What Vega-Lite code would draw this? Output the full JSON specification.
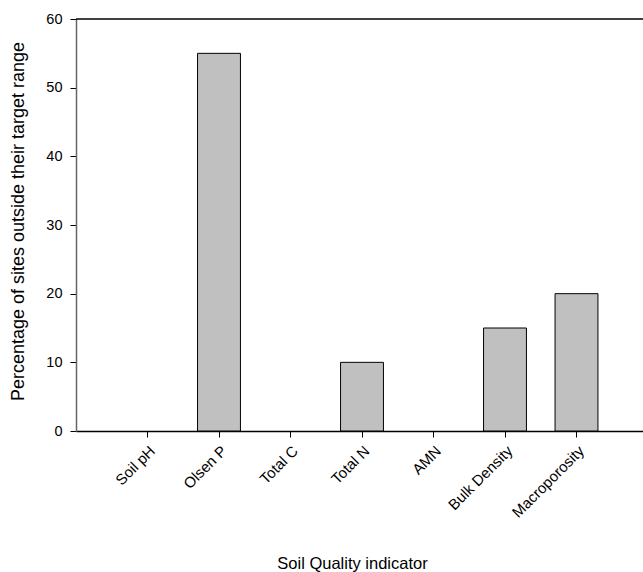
{
  "$schema": "https://vega.github.io/schema/vega-lite/v6.json",
  "autosize": "none",
  "width": 572,
  "height": 412,
  "padding": {"left": 76, "top": 19, "right": 0, "bottom": 141},
  "background": "white",
  "config": {
    "view": {"stroke": null},
    "font": "Liberation Sans"
  },
  "data": {
    "values": [
      {"indicator": "Soil pH", "pct": 0},
      {"indicator": "Olsen P", "pct": 55},
      {"indicator": "Total C", "pct": 0},
      {"indicator": "Total N", "pct": 10},
      {"indicator": "AMN", "pct": 0},
      {"indicator": "Bulk Density", "pct": 15},
      {"indicator": "Macroporosity", "pct": 20}
    ]
  },
  "layer": [
    {
      "transform": [{"filter": "datum.pct > 0"}],
      "mark": {"type": "bar", "fill": "#c0c0c0", "stroke": "black", "strokeWidth": 1},
      "encoding": {
        "x": {
          "field": "indicator",
          "type": "nominal",
          "sort": null,
          "scale": {
            "domain": ["Soil pH", "Olsen P", "Total C", "Total N", "AMN", "Bulk Density", "Macroporosity"],
            "paddingInner": 0.4,
            "paddingOuter": 0.7
          },
          "axis": {
            "title": "Soil Quality indicator",
            "titleFont": "Liberation Sans",
            "titleFontSize": 16.5,
            "titleFontWeight": "normal",
            "titleColor": "black",
            "titleX": 276,
            "titleY": 132,
            "titleAnchor": null,
            "titleAlign": "center",
            "titleBaseline": "middle",
            "labelAngle": -45,
            "labelFont": "Liberation Sans",
            "labelFontSize": 15,
            "labelColor": "black",
            "labelPadding": 6,
            "tickSize": 6,
            "tickColor": "black",
            "domainColor": "black",
            "domainWidth": 1.5,
            "grid": false
          }
        },
        "y": {
          "field": "pct",
          "type": "quantitative",
          "scale": {"domain": [0, 60], "nice": false},
          "axis": {
            "title": "Percentage of sites outside their target range",
            "titleFont": "Liberation Sans",
            "titleFontSize": 18,
            "titleFontWeight": "normal",
            "titleColor": "black",
            "titlePadding": 18,
            "titleY": 202,
            "titleAnchor": null,
            "titleAlign": "center",
            "values": [0, 10, 20, 30, 40, 50, 60],
            "labelFont": "Liberation Sans",
            "labelFontSize": 14.5,
            "labelColor": "black",
            "labelPadding": 8,
            "tickSize": 6,
            "tickColor": "black",
            "domainColor": "#666666",
            "domainWidth": 1.5,
            "grid": false
          }
        }
      }
    },
    {
      "data": {"values": [{"top": 60}]},
      "mark": {"type": "rule", "color": "black", "strokeWidth": 1.5},
      "encoding": {
        "y": {"field": "top", "type": "quantitative"}
      }
    }
  ]
}
